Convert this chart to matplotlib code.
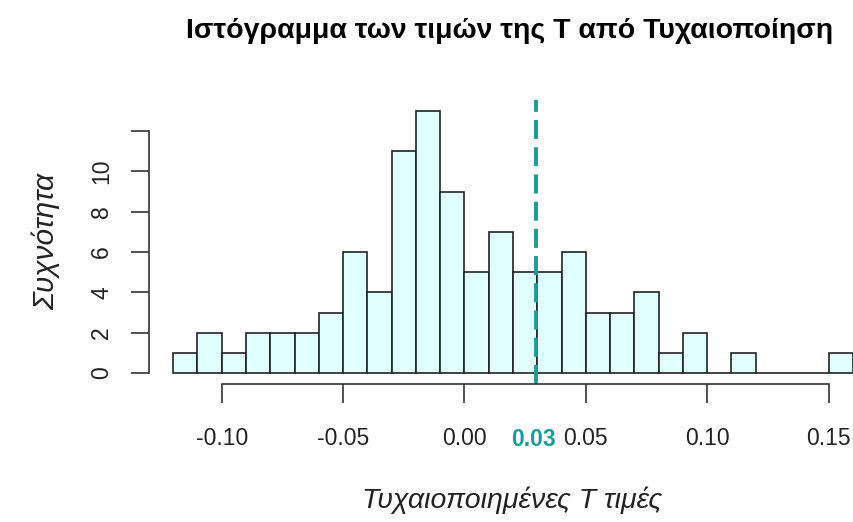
import matplotlib
matplotlib.use("Agg")
import matplotlib.pyplot as plt

plt.rcParams['font.family'] = ['Liberation Sans', 'DejaVu Sans']

# αριστερά άκρα των κλάσεων και συχνότητες
bin_left = [-0.12, -0.11, -0.10, -0.09, -0.08, -0.07, -0.06, -0.05, -0.04, -0.03,
            -0.02, -0.01, 0.00, 0.01, 0.02, 0.03, 0.04, 0.05, 0.06, 0.07,
            0.08, 0.09, 0.10, 0.11, 0.12, 0.13, 0.14, 0.15]
counts = [1, 2, 1, 2, 2, 2, 3, 6, 4, 11,
          13, 9, 5, 7, 5, 5, 6, 3, 3, 4,
          1, 2, 0, 1, 0, 0, 0, 1]
bin_width = 0.01
t_obs = 0.0293
x_ticks = [-0.10, -0.05, 0.00, 0.05, 0.10, 0.15]
x_labels = ['-0.10', '-0.05', '0.00', '0.05', '0.10', '0.15']
y_ticks = [0, 2, 4, 6, 8, 10, 12]
y_labels = ['0', '2', '4', '6', '8', '10', '']

teal = '#1f9a9a'

fig = plt.figure(figsize=(8.54, 5.22), dpi=100)
ax = fig.add_axes([0.171, 0.2653, 0.8595, 0.5424])

ax.bar(bin_left, counts, width=bin_width, align='edge',
       color='#e0ffff', edgecolor='#222222', linewidth=1.2)
ax.axvline(t_obs, color=teal, linestyle=(0, (4.9, 2.1)), linewidth=2.8)

ax.set_xlim(-0.1312, 0.1712)
ax.set_ylim(-0.52, 13.52)

for s in ['top', 'right']:
    ax.spines[s].set_visible(False)
ax.spines['left'].set_bounds(0, 12)
ax.spines['bottom'].set_bounds(-0.10, 0.15)
ax.spines['left'].set_position(('outward', -2))
for s in ['left', 'bottom']:
    ax.spines[s].set_color('#333333')
    ax.spines[s].set_linewidth(1.2)

ax.set_xticks(x_ticks)
ax.set_xticklabels(x_labels, fontsize=16.5, color='#222222', va='center')
ax.set_yticks(y_ticks)
ax.set_yticklabels(y_labels, fontsize=16.5, color='#222222', rotation=90,
                   va='center', ha='center')
ax.tick_params(axis='x', length=13.7, width=1.2, color='#333333', pad=26)
ax.tick_params(axis='y', length=13, width=1.2, color='#333333', pad=21)

# η παρατηρούμενη τιμή κάτω από τον άξονα
ax.annotate('0.03', xy=(t_obs, 0), xycoords=('data', 'axes fraction'),
            xytext=(-1.5, -40), textcoords='offset points',
            ha='center', va='center', fontsize=16.5, fontweight='bold',
            color=teal, annotation_clip=False)

fig.text(510 / 854, 1 - 31 / 522, 'Ιστόγραμμα των τιμών της T από Τυχαιοποίηση',
         ha='center', va='center', fontsize=20.5, fontweight='bold')
fig.text(512 / 854, 1 - 500 / 522, 'Τυχαιοποιημένες T τιμές',
         ha='center', va='center', fontsize=20.5, style='italic', color='#222222')
fig.text(46 / 854, 1 - 242 / 522, 'Συχνότητα', rotation=90,
         ha='center', va='center', fontsize=21.5, style='italic', color='#222222')

fig.savefig('out.png', dpi=100)
